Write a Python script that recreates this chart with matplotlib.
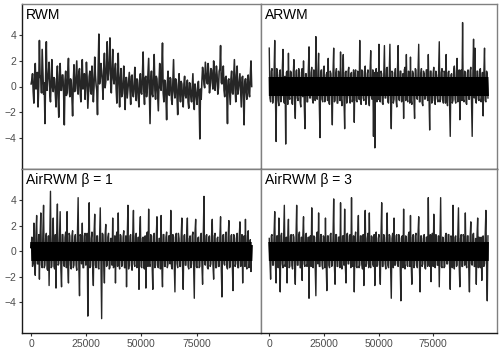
import numpy as np
import matplotlib
matplotlib.use("Agg")
import matplotlib.pyplot as plt
from matplotlib.patches import Rectangle

plt.rcParams['font.family'] = ['Liberation Sans', 'DejaVu Sans']

titles = ["RWM", "ARWM", "AirRWM \u03b2 = 1", "AirRWM \u03b2 = 3"]
x_ticks = [0, 25000, 50000, 75000]
y_ticks = [-4, -2, 0, 2, 4]
n_iter = 100000

rwm = [0.2, 1.0, -1.3, 1.8, 0.1, -1.6, 3.6, 0.8, 2.9, -0.6, -2.9, 3.5, 0.5, 1.9, -1.2, 2.1,
       -0.4, 0.6, -1.6, 1.6, -2.4, 1.8, -0.3, 0.9, -3.0, 1.2, -0.5, 2.2, -0.8, 0.4, -2.3, 1.7,
       -0.2, 2.0, -0.6, 1.4, -1.2, 2.1, 0.3, -1.0, 1.9, -1.7, 0.8, -0.4, 1.6, -1.2, 2.3, 0.1,
       -2.2, 4.1, 0.6, 1.2, -1.0, 2.6, 0.4, 3.5, 1.0, 3.8, -0.5, 2.9, 0.2, 1.8, -1.3, 2.6,
       -1.6, 1.4, -0.6, 1.6, -1.8, 0.7, -0.2, 1.1, -1.4, 0.9, -0.8, 1.5, -1.1, 0.5, -1.6, 1.0,
       -0.6, 2.7, -1.4, 0.8, -0.2, 2.2, -2.9, 1.2, -0.8, 2.5, -1.0, 0.6, -1.9, 1.8, -0.3, 3.4,
       -1.2, 0.4, -2.6, 1.2, -0.7, 0.6, -1.4, 2.1, -0.9, 0.3, -2.2, 1.0, -1.2, 0.2, -1.6, 0.8,
       -0.9, 0.5, -1.7, 0.2, -1.2, 1.0, -1.8, -0.3, -1.4, 0.4, -4.1, -1.0, 1.5, 0.2, 1.9, 0.4,
       1.8, -0.5, 1.4, 0.3, 2.0, -0.3, 1.6, -0.6, 1.2, 3.2, 0.2, 1.6, -0.8, 0.8, -2.9, 0.6,
       -1.4, 1.2, -0.6, 2.1, -1.2, 1.6, -0.2, 1.0, -1.6, 0.8, -3.0, 0.6, -1.0, 0.9, -0.8, 2.0]
rwm_core = [0.5, -0.4, 0.9, -0.2, 1.1, 0.0, 0.7, -0.5, 1.2, 0.3, 0.8, -0.3, 1.0, -0.6, 0.6, -0.1,
            0.7, -0.6, 0.4, -0.9, 0.8, -0.3, 0.9, -0.5, 0.5, -0.7, 1.0, -0.2, 0.6, -0.8, 0.3, -0.4,
            0.9, -0.3, 1.1, -0.5, 0.8, -0.2, 1.0, 0.1, 0.7, -0.4, 1.2, -0.6, 0.5, 0.0, 0.9, -0.3,
            1.5, 0.2, 1.8, 0.4, 1.3, -0.1, 1.7, 0.5, 2.0, 0.3, 1.4, 0.6, 1.2, -0.2, 1.0, 0.2,
            0.6, -0.8, 0.4, -0.5, 0.7, -0.9, 0.5, -0.3, 0.8, -0.7, 0.2, -0.4, 0.6, -0.9, 0.3, -0.5,
            0.9, -0.4, 0.7, -0.8, 1.1, -0.2, 0.5, -0.6, 1.0, -0.3, 0.8, -0.7, 0.4, -0.1, 1.2, -0.5,
            0.5, -0.9, 0.2, -0.6, 0.7, -1.0, 0.3, -0.4, 0.6, -0.8, 0.1, -0.5, 0.4, -1.1, 0.2, -0.7,
            0.0, -1.2, 0.3, -0.8, -0.1, -1.3, 0.2, -0.9, 0.1, -1.0, -0.2, 0.4, 1.0, -0.1, 1.2, 0.2,
            1.0, 0.1, 1.3, -0.2, 1.1, 0.4, 0.9, -0.1, 1.4, 0.3, 1.0, -0.3, 0.7, -0.6, 0.5, -0.4,
            0.6, -0.5, 0.8, -0.2, 0.9, -0.6, 0.4, -0.3, 0.7, -0.8, 0.3, -0.4, 0.6, -0.5, 0.8, 0.0]

arwm = [3.0, -1.2, 1.4, -0.9, 3.6, -4.3, 1.1, -1.5, 1.3, -0.7, 2.9, -1.3, -4.5, 1.2, 2.6, -1.0,
        1.1, -1.4, 2.1, -2.5, 1.3, -1.1, 0.8, -1.6, 1.4, 2.0, -3.3, 1.0, -1.2, 3.1, -0.9, 1.5,
        -1.3, 1.2, 3.9, -1.0, 2.6, -4.0, 1.3, -1.2, 1.6, -0.8, 1.1, 2.2, -1.4, 1.0, -3.0, 3.0,
        -1.1, 1.4, -1.3, 0.9, 2.7, -1.5, 2.5, -3.3, 1.2, -1.0, 1.5, -1.3, 1.1, -0.9, -2.8, 1.3,
        -1.2, 1.0, 3.6, -1.4, 1.2, -1.1, 1.6, -0.8, 1.3, -1.5, 2.8, -1.0, -3.9, -4.8, 1.4, 1.1,
        3.3, -1.2, 1.0, -1.4, 3.2, -0.9, 1.5, -1.3, 3.3, -3.3, 1.1, -1.0, 1.4, -1.6, 3.2, -1.1,
        1.2, -0.9, -2.5, 1.5, 2.5, -1.2, 1.1, 2.3, -1.4, 1.0, -2.5, 1.3, -1.0, 3.3, -1.2, 1.4,
        -1.5, 1.0, -0.9, 1.3, 2.5, -3.4, 1.2, -1.1, 1.5, -1.4, 0.9, -1.2, 3.5, -1.0, 1.4, -1.3,
        1.1, 2.5, -1.5, 1.2, -3.9, 1.0, -1.1, 1.6, -1.3, 2.2, -0.9, -2.6, 1.3, 5.0, -1.2, 1.1,
        -1.4, 1.3, -1.0, 1.5, -3.9, 3.7, 3.0, -1.3, 1.2, -1.1, 1.4, -0.8, -2.3, 3.0, -1.2, 1.0]
arwm_core = [-0.9, 1.2, -1.3, 1.0, -0.7, 1.4, -1.1, 0.9, -1.2, 1.3, -1.0, 0.8, 1.1, -1.4, -0.8, 1.2,
             -1.3, 1.0, -1.1, 1.2, -0.9, 1.4, -1.2, 1.1, -0.8, -1.3, 1.0, -1.2, 1.3, -0.9, 1.1, -1.0,
             1.3, -1.1, -0.9, 1.2, -1.4, 1.0, -1.0, 1.3, -1.2, 0.9, -1.1, -1.3, 1.2, -0.8, 1.1, -1.2,
             1.0, -1.3, 1.2, -1.1, -0.9, 1.4, -1.0, 1.1, -1.3, 1.2, -0.8, 1.0, -1.2, 1.3, 0.9, -1.1,
             1.2, -1.0, -1.1, 1.3, -0.9, 1.2, -1.4, 1.0, -1.1, 1.2, -0.8, 1.3, 1.1, 0.9, -1.2, -1.0,
             -1.1, 1.2, -1.3, 1.0, -0.9, 1.4, -1.2, 1.1, -1.0, 1.2, -1.3, 0.9, -1.1, 1.3, -1.0, 1.2,
             -1.2, 1.0, 1.3, -1.1, -0.9, 1.2, -1.3, -1.0, 1.2, -1.1, 1.4, -0.9, 1.1, -1.2, 1.0, -1.3,
             1.2, -1.0, 1.3, -1.1, -0.8, 1.2, -1.3, 1.0, -1.1, 1.2, -0.9, 1.3, -1.2, 1.1, -1.0, 1.2,
             -1.3, -1.0, 1.1, -1.2, 0.9, -1.3, 1.2, -1.0, 1.1, -1.2, 1.3, 0.9, -1.1, -1.0, 1.2, -1.3,
             1.1, -1.0, 1.2, -1.3, 1.0, -0.9, -1.1, 1.2, -1.0, 1.3, -1.2, 1.1, 1.0, -1.1, 1.2, -0.9]

air1 = [0.3, -1.2, 2.2, -1.9, 2.8, -1.0, -2.2, 3.0, -1.3, 3.6, -1.1, 1.4, -1.5, -2.7, 4.7, -1.2,
        2.6, -1.4, -2.9, 3.7, -1.0, 3.1, -2.8, 1.3, -1.2, 1.5, 3.1, -2.5, 1.2, -1.4, 1.6, -1.1,
        1.3, -1.5, 4.2, -3.5, 1.1, 2.2, -1.3, 1.4, -1.0, -5.1, 3.8, -1.2, 1.5, -2.7, 2.9, -1.3,
        1.2, -1.4, 3.4, -5.3, 1.3, -2.5, 2.1, -1.1, 1.4, -1.3, 1.0, 2.6, -1.2, -2.5, 1.5, 3.0,
        -1.4, 1.2, -1.1, 1.6, -1.3, -2.8, 3.6, -1.0, 1.3, -1.5, 3.2, -1.2, 1.4, -0.9, -3.0, 2.7,
        -1.3, 1.1, -1.4, -2.9, 1.5, 3.3, -1.2, 1.2, -3.0, 1.4, -1.1, 2.7, -1.3, 1.0, 2.8, -2.8,
        1.3, -1.2, 1.5, -1.0, 1.2, 3.2, -1.4, 1.1, -3.2, 1.4, -1.3, 1.0, -1.2, 2.6, -3.0, 1.3,
        -1.1, 2.6, -1.4, 1.2, -1.0, 1.5, -3.7, 2.5, -1.3, 1.1, -1.2, 1.4, -2.6, 4.3, -1.1, 1.3,
        -1.4, 1.2, -1.0, 2.5, -2.2, 1.4, -1.3, 1.1, -1.2, 2.7, -3.6, 1.3, -1.1, 1.5, -1.4, 2.4,
        -1.2, 1.3, -3.1, 1.2, -1.0, 1.4, -1.3, 2.3, -1.1, -2.5, 1.2, 2.5, -1.4, 1.6, -1.0, -1.6]
air1_core = [1.1, -0.9, -1.2, 1.4, -1.0, 1.3, 1.2, -1.1, 1.5, -1.3, 1.0, -1.4, 1.2, 1.1, -1.3, 1.0,
             -1.2, 1.3, 1.4, -1.1, 1.2, -1.4, 1.3, -1.0, 1.1, -1.3, -1.2, 1.4, -1.1, 1.2, -1.3, 1.0,
             -1.1, 1.4, -1.2, 1.3, -1.0, -1.3, 1.2, -1.1, 1.4, 1.2, -1.3, 1.0, -1.2, 1.3, -1.1, 1.2,
             -1.3, 1.1, -1.2, 1.4, -1.0, 1.3, -1.2, 1.1, -1.4, 1.0, -1.1, -1.3, 1.2, 1.1, -1.2, -1.0,
             1.3, -1.2, 1.1, -1.3, 1.2, 1.0, -1.4, 1.2, -1.1, 1.3, -1.0, 1.2, -1.3, 1.1, 1.4, -1.2,
             1.0, -1.3, 1.2, 1.1, -1.2, -1.0, 1.3, -1.1, 1.2, -1.3, 1.1, -1.2, 1.0, -1.4, -1.1, 1.3,
             -1.2, 1.1, -1.3, 1.2, -1.0, -1.2, 1.3, -1.1, 1.2, -1.0, 1.4, -1.2, 1.1, -1.3, 1.2, -1.1,
             1.3, -1.2, 1.0, -1.3, 1.2, -1.1, 1.4, -1.2, 1.0, -1.3, 1.2, -1.1, 1.3, -1.0, 1.2, -1.3,
             1.1, -1.2, 1.3, -1.1, 1.2, -1.3, 1.0, -1.2, 1.1, -1.4, 1.2, -1.0, 1.3, -1.2, 1.1, -1.3,
             1.2, -1.1, 1.3, -1.2, 1.0, -1.3, 1.1, -1.2, 1.3, 1.0, -1.2, -1.1, 1.2, -1.3, 0.9, 0.4]

air3 = [1.0, -2.2, 1.3, -1.1, 3.1, -2.5, 1.2, 2.6, -3.2, 1.4, -1.3, 3.6, -1.0, -2.5, 2.5, -1.2,
        1.3, -1.4, 1.1, -2.6, 3.6, -1.1, 1.5, -1.3, -2.3, 2.7, -1.2, 1.4, -1.0, -3.7, 1.2, 3.4,
        -1.3, 1.1, -3.5, 1.5, 3.0, -1.2, 1.3, -1.4, 1.0, 2.6, -3.1, 1.2, -1.3, 1.4, -1.1, 4.1,
        -2.6, 1.3, -1.2, 1.1, 3.8, -1.4, 1.2, 3.3, -2.5, 1.4, -1.0, 1.3, 4.2, -1.2, -3.2, 1.5,
        -1.3, 2.8, -1.1, 1.2, -1.4, -2.7, 3.2, -1.0, 1.4, 3.0, -1.3, 1.1, -1.2, -2.7, 1.5, -1.1,
        1.3, -2.6, 3.8, -1.2, 1.1, -1.4, 3.0, -1.3, 1.2, -3.7, 1.4, 2.6, -1.1, 1.3, -1.2, 1.0,
        -3.9, 1.2, 3.3, -1.4, 1.1, -1.2, 1.5, 2.8, -2.6, 1.3, -1.1, 1.4, -1.3, 2.7, -3.2, 1.2,
        -1.0, 1.3, -1.4, 1.1, 4.2, -1.2, -2.4, 1.4, 2.9, -1.3, 1.2, -1.1, -2.8, 4.2, -1.3, 1.0,
        -1.2, 1.4, -1.0, 1.3, -3.0, 1.1, 3.6, -1.4, 1.2, -1.1, 3.4, -2.8, 1.3, -1.2, 1.0, 3.0,
        -1.3, 1.2, -3.2, 2.3, -1.1, 1.4, -1.2, -2.6, 2.6, 1.1, -1.3, -2.3, 1.2, -1.0, 3.2, -3.9]
air3_core = [-0.8, 1.2, -1.1, 1.3, -1.0, 1.2, -1.3, -1.1, 1.2, -1.0, 1.3, -1.2, 1.1, 1.0, -1.3, 1.2,
             -1.1, 1.3, -1.2, 1.0, -1.1, 1.2, -1.3, 1.1, 1.2, -1.0, 1.3, -1.2, 1.1, 1.0, -1.2, -1.1,
             1.2, -1.3, 1.1, -1.0, -1.2, 1.3, -1.1, 1.2, -1.3, -1.0, 1.2, -1.1, 1.3, -1.2, 1.0, -1.1,
             1.3, -1.2, 1.1, -1.3, -1.0, 1.2, -1.1, -1.2, 1.3, -1.0, 1.2, -1.3, -1.1, 1.2, 1.0, -1.2,
             1.1, -1.3, 1.2, -1.0, 1.3, 1.1, -1.2, 1.0, -1.3, -1.1, 1.2, -1.0, 1.3, 1.1, -1.2, 1.0,
             -1.3, 1.1, -1.2, 1.3, -1.0, 1.2, -1.1, 1.3, -1.2, 1.0, -1.3, -1.1, 1.2, -1.0, 1.3, -1.2,
             1.1, -1.3, -1.0, 1.2, -1.1, 1.3, -1.2, -1.0, 1.1, -1.3, 1.2, -1.0, 1.3, -1.1, 1.2, -1.2,
             1.0, -1.3, 1.1, -1.2, -1.0, 1.3, 1.1, -1.2, -1.0, 1.3, -1.1, 1.2, 1.0, -1.2, 1.1, -1.3,
             1.2, -1.0, 1.3, -1.1, 1.2, -1.3, -1.0, 1.1, -1.2, 1.3, -1.1, 1.0, -1.2, 1.3, -1.1, -1.0,
             1.2, -1.3, 1.1, -1.0, 1.3, -1.2, 1.0, 1.1, -1.3, -1.2, 1.1, 1.0, -1.2, 1.3, -1.1, 1.2]

series = [(rwm, rwm_core), (arwm, arwm_core), (air1, air1_core), (air3, air3_core)]
dense = [False, True, True, True]

fig = plt.figure(figsize=(5.01, 3.58), dpi=100)
W, H = 501.0, 358.0
xl, xm, xr = 22.3, 260.5, 496.7
yt, ym, yb = 4.0, 169.0, 333.3
rects = [
    (xl / W, 1 - ym / H, (xm - xl) / W, (ym - yt) / H),
    (xm / W, 1 - ym / H, (xr - xm) / W, (ym - yt) / H),
    (xl / W, 1 - yb / H, (xm - xl) / W, (yb - ym) / H),
    (xm / W, 1 - yb / H, (xr - xm) / W, (yb - ym) / H),
]

for k, ((peaks, core), title, rect) in enumerate(zip(series, titles, rects)):
    ax = fig.add_axes(rect)
    vals = np.column_stack([peaks, core]).ravel()
    x = np.linspace(0, n_iter, len(vals))
    if dense[k]:
        ax.plot(x, vals, color='black', lw=1.0, alpha=0.85)
        thick, = ax.plot(x, vals, color='black', lw=1.5)
        band = Rectangle((-4000, -0.75), 108000, 1.5, transform=ax.transData,
                         facecolor='none', edgecolor='none')
        ax.add_patch(band)
        thick.set_clip_path(band)
    else:
        ax.plot(x, vals, color='black', lw=1.15, alpha=0.85)
    ax.set_xlim(-4000, 104000)
    ax.set_ylim(-6.45, 6.45)
    ax.set_xticks(x_ticks)
    ax.set_yticks(y_ticks)
    ax.tick_params(axis='both', length=2.5, width=0.8, color='#333333',
                   labelsize=7.5, labelcolor='#4d4d4d', pad=1.5)
    left_col = (k % 2 == 0)
    bottom_row = (k >= 2)
    if not left_col:
        ax.tick_params(axis='y', left=False, labelleft=False)
    if not bottom_row:
        ax.tick_params(axis='x', bottom=False, labelbottom=False)
    for side in ['top', 'right']:
        ax.spines[side].set_color('#808080')
        ax.spines[side].set_linewidth(1.0)
    ax.spines['bottom'].set_color('#1a1a1a')
    ax.spines['bottom'].set_linewidth(1.0)
    ax.spines['left'].set_color('#1a1a1a' if left_col else '#808080')
    ax.spines['left'].set_linewidth(1.0)
    ax.text(0.017, 0.975, title, transform=ax.transAxes, ha='left', va='top',
            fontsize=10, color='black')

fig.savefig("out.png", dpi=100)
